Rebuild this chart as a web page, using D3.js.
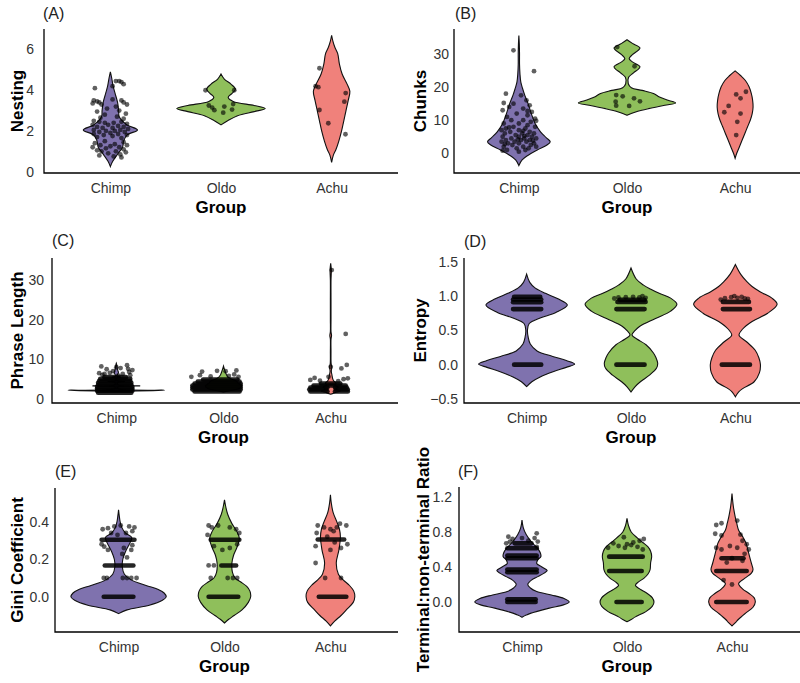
<!DOCTYPE html>
<html>
<head>
<meta charset="UTF-8">
<script src="https://d3js.org/d3.v7.min.js"></script>
<style>
  body { margin: 0; background: #fff; }
  svg { font-family: Arial, "Liberation Sans", sans-serif; }
  .tick text { font-size: 14px; fill: #333; font-family: Arial, "Liberation Sans", sans-serif; }
  .axis-title { font-size: 17px; font-weight: bold; fill: #000; }
  .panel-label { font-size: 16px; fill: #222; }
</style>
</head>
<body>
<svg id="chart" width="800" height="683"></svg>
<script>
// groups on every x axis
const groups = ["Chimp", "Oldo", "Achu"];

// violin outlines: [value, half width as share of category step], per group (Chimp, Oldo, Achu)
// jittered points: [value, x offset as share of step]
// dense point rows: [value, offset from, offset to]

// (A) Nesting
const nestingTicks = [0, 2, 4, 6];
const nestingShapes = [
  [[0.25,0],[0.5,0.02],[0.9,0.07],[1.2,0.11],[1.5,0.12],[1.8,0.15],[2.05,0.245],[2.3,0.15],[2.7,0.08],[3.0,0.075],[3.4,0.065],[3.8,0.045],[4.2,0.025],[4.6,0.012],[4.9,0]],
  [[2.3,0],[2.5,0.06],[2.75,0.15],[2.95,0.3],[3.1,0.4],[3.25,0.3],[3.45,0.11],[3.65,0.065],[3.85,0.1],[4.05,0.13],[4.3,0.09],[4.55,0.03],[4.8,0]],
  [[0.46,0],[0.8,0.015],[1.1,0.04],[1.5,0.065],[2.0,0.09],[2.5,0.11],[3.0,0.13],[3.5,0.15],[3.95,0.165],[4.3,0.14],[4.8,0.095],[5.3,0.07],[5.8,0.055],[6.1,0.03],[6.4,0.012],[6.7,0]]
];
const nestingPoints = [
  [[4.45,0.05],[4.4,0.1],[4.3,0.12],[4.2,0.02],[4.1,-0.14],[4.45,0.08],
   [3.5,-0.15],[3.45,-0.12],[3.4,-0.1],[3.35,-0.16],[3.3,-0.08],[3.5,0.1],[3.4,0.12],[3.3,0.15],[3.55,0.02],[3.2,0.05],[3.1,-0.03],[3.0,0.08],[2.95,-0.12],[2.85,0.14],[2.8,-0.05],
   [2.7,0.06],[2.65,-0.09],[2.6,0.12],
   [2.5,-0.15],[2.45,-0.1],[2.4,-0.05],[2.4,0.03],[2.45,0.1],[2.35,0.15],[2.3,-0.16],[2.3,-0.02],[2.25,0.07],[2.2,-0.12],[2.2,0.12],[2.15,-0.07],[2.15,0.02],[2.1,0.16],[2.05,-0.15],[2.05,0.09],[2.0,-0.04],[2.0,0.04],[1.95,-0.1],[1.95,0.13],[1.9,0.0],[1.85,-0.15],[1.85,0.07],[1.8,-0.06],[1.8,0.15],[1.75,0.02],[1.7,-0.12],[1.65,0.1],
   [1.5,-0.05],[1.45,0.12],[1.4,-0.14],[1.35,0.04],[1.3,-0.09],[1.3,0.15],[1.25,0.0],[1.2,-0.16],[1.2,0.08],[1.15,-0.04],[1.1,0.12],[1.05,-0.12],[1.0,0.05],[1.0,-0.08],[0.95,0.14],[0.9,-0.02],[0.85,0.09],[0.8,-0.1],[0.75,0.03],[0.7,0.1]],
  [[4.0,-0.14],[4.0,0.12],[3.25,-0.11],[3.15,-0.08],[3.02,-0.06],[2.9,0.02],[3.2,0.03],[3.32,0.11],[3.05,0.1]],
  [[5.08,-0.11],[4.2,-0.145],[4.15,-0.12],[3.86,0.127],[3.44,0.115],[3.03,-0.11],[2.38,-0.03],[1.84,0.125]]
];
const nestingRows = [[], [], []];

// (B) Chunks
const chunksTicks = [0, 10, 20, 30];
const chunksShapes = [
  [[-3.7,0],[-2,0.03],[-0.5,0.09],[1,0.17],[2.5,0.26],[3.5,0.29],[4.8,0.25],[6.5,0.2],[9,0.15],[12,0.115],[15,0.085],[17.5,0.055],[19.5,0.035],[21.5,0.018],[24,0.01],[27,0.006],[30,0.006],[33,0.004],[35.6,0]],
  [[11.5,0],[12.5,0.08],[13.5,0.2],[14.5,0.35],[15.2,0.45],[16,0.38],[17,0.3],[18,0.25],[19,0.14],[19.8,0.04],[21,0.012],[23,0.015],[24.3,0.06],[26.1,0.12],[27.6,0.05],[28.6,0.02],[29.8,0.05],[31.8,0.12],[33.2,0.05],[34.3,0]],
  [[-1.5,0],[0,0.015],[2,0.04],[4,0.065],[6,0.09],[8,0.115],[10,0.14],[12,0.158],[14,0.166],[16,0.162],[18,0.15],[20,0.13],[22,0.095],[23.5,0.05],[24.9,0]]
];
const chunksPoints = [
  [[31.1,-0.05],[24.8,0.14],[18,-0.12],[17.5,0.02],[16,0.07],[15.2,-0.14],[15,-0.05],[14.5,0.1],[14,-0.09],[13.5,0.04],[13,-0.15],[12.5,0.12],[12,-0.02],[11.5,0.08],[11,-0.11],[10.5,0.15],[10,0.04],[10,-0.07],[9.5,0.11],[9,-0.14],[9,0.0],[8.5,0.08],[8,-0.05],[8,0.15],[7.5,-0.12],[7.5,0.06],[7,0.0],[7,-0.16],[6.5,0.1],[6.5,-0.08],[6,0.03],[6,0.14],[6,-0.13],[5.5,-0.03],[5.5,0.08],[5,-0.15],[5,0.0],[5,0.12],[4.5,-0.07],[4.5,0.05],[4.5,0.16],[4,-0.12],[4,0.02],[4,0.1],[3.5,-0.16],[3.5,-0.04],[3.5,0.07],[3,0.14],[3,-0.1],[3,0.0],[2.5,-0.06],[2.5,0.11],[2,-0.14],[2,0.04],[2,0.16],[1.5,-0.02],[1.5,0.09],[1,-0.11],[1,0.06],[0.5,0.0],[0.8,-0.15],[4.2,-0.01],[5.2,0.05],[3.8,0.13],[2.8,-0.13],[6.8,0.04],[7.8,-0.09],[12.8,0.08],[9.8,0.16]],
  [[17.6,-0.1],[15.6,-0.105],[14.4,-0.1],[17.2,-0.04],[14.3,0.02],[16.6,0.065],[15.7,0.12],[26.3,0.07],[32.1,-0.09]],
  [[17.8,0.01],[18.6,0.1],[16.6,0.05],[14.3,-0.06],[12.4,-0.1],[12.0,0.05],[9.5,0.02],[5.5,0.01]]
];
const chunksRows = [[], [], []];

// (C) Phrase Length
const phraseTicks = [0, 10, 20, 30];
const phraseShapes = [
  [[1.9,0],[2.2,0.45],[2.5,0.02],[2.8,0.01],[3.1,0.02],[3.3,0.22],[3.5,0.02],[3.9,0.01],[4.2,0.015],[4.4,0.08],[4.6,0.01],[5.2,0.005],[5.5,0.04],[5.8,0.005],[6.6,0.02],[7.5,0.01],[8.5,0.005],[9,0]],
  [[1.8,0],[2.2,0.08],[2.7,0.15],[3.3,0.17],[3.9,0.14],[4.5,0.12],[5.2,0.06],[6,0.03],[7,0.015],[8.3,0]],
  [[1.2,0],[1.6,0.04],[2.0,0.09],[2.5,0.05],[3.0,0.07],[3.5,0.04],[4.0,0.05],[4.5,0.03],[5,0.02],[6,0.012],[7,0.006],[8,0.01],[9,0.004],[12,0.003],[15,0.003],[16,0.008],[17,0.003],[20,0.003],[25,0.003],[30,0.003],[32.5,0.006],[34.2,0]]
];
const phrasePoints = [
  [[8.5,0.1],[8.2,-0.14],[7.8,0.04],[7.5,-0.09],[7.3,0.15],[7.0,-0.03],[6.8,0.12],[6.5,-0.16],[6.3,0.06],[8.0,0.0],[6.6,-0.06],[7.6,0.11],[6.3,-0.11],[6.1,-0.13],[5.9,0.02],[6.0,0.13]],
  [[5.6,-0.3],[6.9,-0.2],[7.1,-0.06],[7.0,0.02],[7.2,0.12],[6.2,0.1],[5.8,0.05],[5.7,-0.12],[6.0,-0.22],[5.6,0.14]],
  [[32.5,0.01],[16.4,0.14],[8.6,0.15],[7.7,0.1],[8.1,0.0],[5.6,-0.02],[5.3,-0.15],[5.0,0.12],[4.5,0.07],[4.6,-0.1],[5.2,0.16],[4.8,-0.19]]
];
const phraseRows = [
  [[1.6,-0.17,0.14],[2.1,-0.18,0.15],[2.6,-0.18,0.15],[3.1,-0.18,0.15],[3.6,-0.17,0.14],[4.1,-0.17,0.14],[4.6,-0.16,0.13],[5.1,-0.15,0.13],[5.5,-0.11,0.09]],
  [[1.9,-0.27,0.15],[2.4,-0.29,0.16],[2.9,-0.29,0.16],[3.4,-0.29,0.16],[3.9,-0.27,0.16],[4.4,-0.24,0.15],[4.9,-0.19,0.13]],
  [[1.9,-0.19,-0.03],[1.9,0.04,0.16],[2.4,-0.2,-0.04],[2.4,0.05,0.16],[2.9,-0.19,-0.03],[2.9,0.04,0.15],[3.4,-0.16,0.14],[3.9,-0.09,0.09]]
];

// (D) Entropy
const entropyTicks = [-0.5, 0, 0.5, 1, 1.5];
const entropyShapes = [
  [[-0.32,0],[-0.25,0.05],[-0.18,0.13],[-0.1,0.26],[-0.04,0.38],[0.01,0.46],[0.06,0.38],[0.12,0.25],[0.2,0.1],[0.3,0.035],[0.4,0.015],[0.5,0.008],[0.6,0.025],[0.68,0.13],[0.76,0.28],[0.87,0.39],[0.96,0.3],[1.04,0.18],[1.12,0.08],[1.2,0.03],[1.32,0]],
  [[-0.4,0],[-0.32,0.04],[-0.25,0.09],[-0.15,0.18],[-0.05,0.245],[0.02,0.256],[0.1,0.24],[0.17,0.215],[0.29,0.144],[0.37,0.06],[0.43,0.01],[0.5,0.04],[0.56,0.085],[0.67,0.23],[0.78,0.38],[0.88,0.44],[0.97,0.38],[1.04,0.27],[1.1,0.19],[1.16,0.12],[1.25,0.05],[1.41,0]],
  [[-0.47,0],[-0.4,0.03],[-0.35,0.07],[-0.25,0.18],[-0.12,0.23],[0.0,0.24],[0.1,0.225],[0.21,0.19],[0.33,0.11],[0.43,0.035],[0.52,0.07],[0.63,0.16],[0.75,0.31],[0.88,0.4],[0.97,0.35],[1.06,0.24],[1.14,0.16],[1.21,0.11],[1.32,0.05],[1.46,0]]
];
const entropyPoints = [
  [],
  [[0.98,-0.12],[0.985,-0.05],[0.99,0.02],[0.98,0.08],[0.975,0.14],[0.965,-0.16],[1.0,0.11]],
  [[0.97,-0.1],[0.985,-0.04],[0.975,0.02],[0.99,0.06],[0.96,0.12],[0.95,-0.14],[0.965,0.09],[1.0,-0.01]]
];
const entropyRows = [
  [[0,-0.12,0.14],[0.81,-0.13,0.14],[0.91,-0.13,0.14],[0.95,-0.13,0.14],[0.99,-0.12,0.13]],
  [[0,-0.14,0.13],[0.81,-0.14,0.13],[0.915,-0.13,0.14],[0.945,-0.11,0.13]],
  [[0,-0.13,0.14],[0.81,-0.12,0.14],[0.915,-0.12,0.13]]
];

// (E) Gini Coefficient
const giniTicks = [0, 0.2, 0.4];
const giniShapes = [
  [[-0.09,0],[-0.07,0.08],[-0.045,0.29],[-0.02,0.41],[0.0,0.45],[0.02,0.43],[0.04,0.37],[0.06,0.26],[0.09,0.12],[0.12,0.055],[0.16,0.035],[0.2,0.04],[0.24,0.065],[0.29,0.11],[0.315,0.125],[0.34,0.065],[0.37,0.03],[0.4,0.015],[0.43,0.007],[0.464,0]],
  [[-0.14,0],[-0.12,0.04],[-0.1,0.09],[-0.07,0.165],[-0.03,0.225],[0.0,0.247],[0.03,0.24],[0.055,0.21],[0.08,0.15],[0.1,0.1],[0.13,0.075],[0.18,0.07],[0.22,0.085],[0.26,0.115],[0.31,0.14],[0.35,0.115],[0.39,0.07],[0.44,0.03],[0.48,0.012],[0.517,0]],
  [[-0.155,0],[-0.13,0.04],[-0.1,0.1],[-0.07,0.15],[-0.03,0.215],[0.0,0.23],[0.03,0.22],[0.06,0.18],[0.09,0.12],[0.12,0.075],[0.18,0.055],[0.25,0.08],[0.32,0.094],[0.36,0.085],[0.4,0.06],[0.45,0.025],[0.5,0.008],[0.544,0]]
];
const giniPoints = [
  [[0.366,-0.1],[0.375,-0.04],[0.375,0.1],[0.37,0.15],[0.34,-0.07],[0.34,0.07],[0.35,0.13],[0.33,-0.01],[0.38,0.02],[0.36,-0.15],[0.267,-0.135],[0.25,-0.1],[0.25,0.12],[0.275,0.13],[0.228,0.035],[0.28,-0.16],[0.26,0.05],[0.21,0.08],[0.1,-0.14],[0.1,-0.11],[0.1,0.04],[0.1,0.08],[0.1,0.12],[0.1,0.17]],
  [[0.167,-0.15],[0.167,-0.1],[0.1,-0.13],[0.1,0.03],[0.1,0.08],[0.1,0.12],[0.37,-0.12],[0.38,-0.06],[0.37,0.05],[0.36,0.11],[0.34,0.14],[0.27,-0.1],[0.26,0.05],[0.25,-0.02],[0.33,-0.16],[0.28,0.12],[0.38,-0.15]],
  [[0.38,-0.12],[0.37,-0.06],[0.36,0.0],[0.37,0.06],[0.39,0.09],[0.38,0.15],[0.34,-0.13],[0.35,0.03],[0.27,-0.14],[0.26,0.1],[0.28,0.16],[0.25,0.0],[0.18,-0.14],[0.1,-0.05],[0.1,0.1],[0.32,-0.03],[0.29,0.04]]
];
const giniRows = [
  [[0,-0.14,0.14],[0.304,-0.16,0.15],[0.167,-0.13,0.14]],
  [[0,-0.15,0.13],[0.304,-0.13,0.14],[0.167,-0.03,0.11]],
  [[0,-0.11,0.15],[0.305,-0.12,0.13]]
];

// (F) Terminal:non-terminal Ratio
const ratioTicks = [0, 0.4, 0.8, 1.2];
const ratioShapes = [
  [[-0.175,0],[-0.15,0.04],[-0.13,0.08],[-0.07,0.26],[-0.03,0.4],[0.0,0.45],[0.04,0.4],[0.08,0.28],[0.12,0.14],[0.16,0.08],[0.2,0.055],[0.25,0.09],[0.29,0.15],[0.33,0.21],[0.36,0.24],[0.4,0.19],[0.44,0.14],[0.48,0.15],[0.52,0.18],[0.56,0.175],[0.61,0.15],[0.69,0.087],[0.77,0.04],[0.85,0.012],[0.937,0]],
  [[-0.225,0],[-0.2,0.04],[-0.17,0.08],[-0.11,0.18],[-0.05,0.24],[0.0,0.257],[0.05,0.24],[0.1,0.19],[0.15,0.12],[0.19,0.08],[0.23,0.11],[0.27,0.16],[0.32,0.2],[0.37,0.22],[0.45,0.225],[0.52,0.235],[0.58,0.225],[0.63,0.2],[0.68,0.15],[0.73,0.1],[0.8,0.04],[0.87,0.015],[0.956,0]],
  [[-0.274,0],[-0.24,0.03],[-0.2,0.06],[-0.13,0.127],[-0.06,0.2],[0.0,0.222],[0.05,0.21],[0.1,0.16],[0.15,0.1],[0.21,0.063],[0.27,0.12],[0.33,0.185],[0.37,0.2],[0.44,0.185],[0.52,0.167],[0.6,0.15],[0.67,0.135],[0.75,0.1],[0.82,0.063],[0.9,0.045],[0.975,0.03],[1.1,0.012],[1.24,0]]
];
const ratioPoints = [
  [[0.746,-0.13],[0.785,0.14],[0.73,0.12],[0.63,0.14],[0.69,-0.115],[0.72,-0.09],[0.7,0.06],[0.73,0.0],[0.67,-0.15],[0.69,0.15]],
  [[0.62,-0.18],[0.64,-0.08],[0.66,0.0],[0.68,0.06],[0.7,0.12],[0.72,0.16],[0.63,0.1],[0.74,-0.03],[0.6,0.15],[0.67,-0.13],[0.62,-0.02],[0.65,0.04]],
  [[0.9,-0.1],[0.93,0.05],[0.88,-0.15],[0.78,-0.16],[0.76,-0.1],[0.77,0.08],[0.7,0.1],[0.66,0.14],[0.62,-0.15],[0.6,-0.1],[0.62,0.05],[0.6,0.16],[0.55,0.12],[0.45,-0.05],[0.47,0.1],[0.2,0.0],[0.25,-0.08],[0.64,-0.02],[0.5,0.0]]
];
const ratioRows = [
  [[0,-0.14,0.13],[0.03,-0.14,0.13],[0.34,-0.14,0.14],[0.37,-0.14,0.14],[0.5,-0.14,0.14],[0.53,-0.14,0.14],[0.614,-0.14,0.14],[0.67,-0.07,0.09]],
  [[0,-0.1,0.14],[0.354,-0.17,0.14],[0.518,-0.17,0.15]],
  [[0,-0.15,0.14],[0.354,-0.15,0.14],[0.5,-0.1,0.11]]
];

const colors = { Chimp: "#7F72AE", Oldo: "#8FBF5B", Achu: "#F0817B" };
const oneDec = d3.format(".1f");

const panels = [
  { tag: "(A)", title: "Nesting", ticks: nestingTicks, fmt: d3.format("d"), shapes: nestingShapes, points: nestingPoints, rows: nestingRows,
    left: 44, right: 398, axisEnd: 398, top: 29, bottom: 173, domain: [-0.064, 7.007], yPad: 10, titleX: 23, tagX: 43, tagY: 19 },
  { tag: "(B)", title: "Chunks", ticks: chunksTicks, fmt: d3.format("d"), shapes: chunksShapes, points: chunksPoints, rows: chunksRows,
    left: 454, right: 800, axisEnd: 800, top: 29, bottom: 173, domain: [-5.95, 37.55], yPad: 5, titleX: 426, tagX: 455, tagY: 19 },
  { tag: "(C)", title: "Phrase Length", ticks: phraseTicks, fmt: d3.format("d"), shapes: phraseShapes, points: phrasePoints, rows: phraseRows,
    left: 52, right: 395, axisEnd: 398, top: 258, bottom: 403, domain: [-1.01, 35.54], yPad: 8, titleX: 23, tagX: 52, tagY: 246 },
  { tag: "(D)", title: "Entropy", ticks: entropyTicks, fmt: oneDec, shapes: entropyShapes, points: entropyPoints, rows: entropyRows,
    left: 464, right: 798, axisEnd: 800, top: 258, bottom: 403, domain: [-0.56, 1.556], yPad: 6, titleX: 426, tagX: 464, tagY: 247 },
  { tag: "(E)", title: "Gini Coefficient", ticks: giniTicks, fmt: oneDec, shapes: giniShapes, points: giniPoints, rows: giniRows,
    left: 55, right: 394, axisEnd: 398, top: 488, bottom: 632, domain: [-0.188, 0.58], yPad: 6, titleX: 23, tagX: 55, tagY: 477 },
  { tag: "(F)", title: "Terminal:non-terminal Ratio", ticks: ratioTicks, fmt: oneDec, shapes: ratioShapes, points: ratioPoints, rows: ratioRows,
    left: 459, right: 795, axisEnd: 800, top: 487, bottom: 632, domain: [-0.343, 1.314], yPad: 7, titleX: 429, tagX: 458, tagY: 477 }
];

const svg = d3.select("#chart");

panels.forEach(p => {
  const g = svg.append("g");
  const x = d3.scalePoint().domain(groups).range([p.left, p.right]).padding(0.6);
  const step = x.step();
  const y = d3.scaleLinear().domain(p.domain).range([p.bottom, p.top]);

  // violins
  groups.forEach((grp, i) => {
    const cx = x(grp);
    const area = d3.area()
      .curve(d3.curveCatmullRom.alpha(0.5))
      .y(d => y(d[0]))
      .x0(d => cx - d[1] * step)
      .x1(d => cx + d[1] * step);
    g.append("path")
      .attr("d", area(p.shapes[i]))
      .attr("fill", colors[grp])
      .attr("stroke", "#111")
      .attr("stroke-width", 1.1);
  });

  // jittered points and the rows where they pile up
  groups.forEach((grp, i) => {
    const cx = x(grp);
    g.selectAll(null)
      .data(p.rows[i])
      .enter()
      .append("line")
      .attr("x1", d => cx + d[1] * step)
      .attr("x2", d => cx + d[2] * step)
      .attr("y1", d => y(d[0]))
      .attr("y2", d => y(d[0]))
      .attr("stroke", "#000")
      .attr("stroke-opacity", 0.85)
      .attr("stroke-width", 4.6)
      .attr("stroke-linecap", "round");
    g.selectAll(null)
      .data(p.points[i])
      .enter()
      .append("circle")
      .attr("cx", d => cx + d[1] * step)
      .attr("cy", d => y(d[0]))
      .attr("r", 2.4)
      .attr("fill", "#000")
      .attr("fill-opacity", 0.62);
  });

  // axes
  g.append("g")
    .attr("transform", `translate(0,${p.bottom})`)
    .call(d3.axisBottom(x).tickSize(0).tickPadding(10))
    .call(a => a.select(".domain").remove());

  g.append("g")
    .attr("transform", `translate(${p.left},0)`)
    .call(d3.axisLeft(y).tickValues(p.ticks).tickFormat(p.fmt).tickSize(0).tickPadding(p.yPad))
    .call(a => a.select(".domain").remove());

  g.append("path")
    .attr("d", `M${p.left},${p.top}V${p.bottom}H${p.axisEnd}`)
    .attr("fill", "none")
    .attr("stroke", "#000")
    .attr("stroke-width", 1.3);

  // titles
  g.append("text")
    .attr("class", "axis-title")
    .attr("text-anchor", "middle")
    .attr("x", x("Oldo"))
    .attr("y", p.bottom + 40)
    .text("Group");

  g.append("text")
    .attr("class", "axis-title")
    .attr("text-anchor", "middle")
    .attr("transform", `translate(${p.titleX},${(p.top + p.bottom) / 2}) rotate(-90)`)
    .text(p.title);

  g.append("text")
    .attr("class", "panel-label")
    .attr("x", p.tagX)
    .attr("y", p.tagY)
    .text(p.tag);
});
</script>
</body>
</html>
